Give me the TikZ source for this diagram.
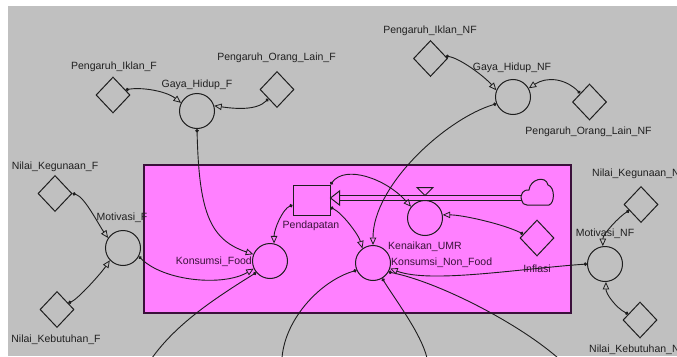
\documentclass[tikz,border=0pt]{standalone}
\usepackage{fontspec}
\setmainfont{Liberation Sans}
\usetikzlibrary{arrows.meta,shapes.geometric,calc}
\definecolor{bgc}{HTML}{C0C0C0}
\definecolor{magc}{HTML}{FF80FF}
\definecolor{boxline}{HTML}{3A103A}
\definecolor{linec}{HTML}{1E1E1E}
\definecolor{txtc}{HTML}{202020}
\definecolor{txtin}{HTML}{3A123A}
\tikzset{
  aux/.style={circle, draw=linec, line width=1pt, minimum size=35pt, inner sep=0pt},
  const/.style={diamond, draw=linec, line width=1pt, minimum width=34pt, minimum height=36pt, inner sep=0pt},
  levelbox/.style={rectangle, draw=linec, line width=1pt, minimum width=37pt, minimum height=30pt, inner sep=0pt},
  lbl/.style={font=\fontsize{10.5}{12}\selectfont, text=txtc, inner sep=0pt},
  lblin/.style={lbl, text=txtin},
  link/.style={draw=linec, line width=0.9pt, {Circle[length=3.4pt]}-{Triangle[open,length=7.5pt,width=6.5pt,line width=0.8pt]}},
  outlink/.style={draw=linec, line width=0.9pt, {Circle[length=3.4pt]}-},
  flowline/.style={draw=linec, line width=1pt},
}
\begin{document}
\begin{tikzpicture}[x=1pt,y=-1pt]
\useasboundingbox (0,0) rectangle (677,356);
\clip (0,0) rectangle (677,356);
\fill[white] (0,0) rectangle (677,356);
\fill[bgc] (8,6) rectangle (677,356);
\draw[fill=magc, draw=boxline, line width=1.2pt] (144,165) rectangle (571,313);

% auxiliaries
\node[aux] (gf) at (197,111) {};
\node[aux] (mf) at (123,248) {};
\node[aux] (kf) at (270,261) {};
\node[aux] (knf) at (373,263) {};
\node[aux] (kumr) at (425,218) {};
\node[aux] (mnf) at (605,264) {};
\node[aux] (ghnf) at (513,97) {};
% constants
\node[const] (pif) at (113,95) {};
\node[const] (polf) at (277,89.5) {};
\node[const] (nkf) at (55,193.5) {};
\node[const] (nbf) at (57,309.5) {};
\node[const] (pinf) at (430.5,58.5) {};
\node[const] (polnf) at (589.5,102) {};
\node[const] (infl) at (537,238) {};
\node[const] (nknf) at (641,204.5) {};
\node[const] (nbnf) at (640,320) {};
% level
\node[levelbox] (pend) at (311.5,200) {};

% labels
\node[lbl] (lpif) at (114,67) {Pengaruh\_Iklan\_F};
\node[lbl] (lgf) at (197,85) {Gaya\_Hidup\_F};
\node[lbl] (lpolf) at (276.5,58) {Pengaruh\_Orang\_Lain\_F};
\node[lbl] (lnkf) at (55,167) {Nilai\_Kegunaan\_F};
\node[lbl] (lmf) at (122,218) {Motivasi\_F};
\node[lbl] (lnbf) at (56,340) {Nilai\_Kebutuhan\_F};
\node[lblin, anchor=east] (lkf) at (252,262) {Konsumsi\_Food};
\node[lblin] (lpend) at (311,226) {Pendapatan};
\node[lblin, anchor=west] (lkumr) at (388,247) {Kenaikan\_UMR};
\node[lblin, anchor=west] (lknf) at (391,263) {Konsumsi\_Non\_Food};
\node[lblin] (linfl) at (537,269) {Inflasi};
\node[lbl] (lmnf) at (605,234) {Motivasi\_NF};
\node[lbl, anchor=west] (lnknf) at (592,174) {Nilai\_Kegunaan\_NF};
\node[lbl, anchor=west] (lnbnf) at (589,350) {Nilai\_Kebutuhan\_NF};
\node[lbl] (lpinf) at (430,31) {Pengaruh\_Iklan\_NF};
\node[lbl] (lghnf) at (512,68) {Gaya\_Hidup\_NF};
\node[lbl] (lpolnf) at (588.5,132) {Pengaruh\_Orang\_Lain\_NF};

% flow: cloud -> Pendapatan
\coordinate (cloud) at (522,198);
\draw[flowline, fill=magc] (522,201) .. controls (519,194) and (524,189) .. (529,190)
  .. controls (530,179) and (546,175) .. (548,185)
  .. controls (555,187) and (555,203) .. (549,205)
  -- (527,205) .. controls (524,205) and (522,203) .. (522,201) -- cycle;
\coordinate (tipP) at ($(pend.east)+(0,-2)$);
\draw[flowline] ($(cloud)+(0,-2.2)$) -- ($(tipP)+(9,-2.2)$);
\draw[flowline] ($(cloud)+(0,2.2)$) -- ($(tipP)+(9,2.2)$);
\draw[flowline] (tipP) -- ++(9,-7) -- ++(0,14) -- cycle;
\draw[flowline] ($(kumr.north)+(-8,-12.5)$) -- ++(16,0) -- ($(kumr.north)+(0,-4.5)$) -- cycle;

% information links
\draw[link] (pif.22) .. controls +(15,-3) and +(-15,-12) .. (gf.153);
\draw[link] (polf.227) .. controls +(-12,12) and +(20,3) .. (gf.17);
\draw[link] (gf.south) .. controls +(2,80) and +(-45,-15) .. (kf.158);
\draw[link] (nkf.east) .. controls +(12,3) and +(-10,-14) .. (mf.146);
\draw[link] (nbf.30) .. controls +(10,-4) and +(-8,12) .. (mf.223);
\draw[link] (mf.-28) .. controls +(25,25) and +(-30,18) .. (kf.205);
\draw[link] (pend.195) .. controls +(-10,4) and +(0,-14) .. (kf.77);
\draw[link] (pend.-21) .. controls +(12,6) and +(-4,-14) .. (knf.126);
\draw[link] (pend.north east) .. controls +(15,-20) and +(-25,-28) .. (kumr.141);
\draw[link] (ghnf.202) .. controls +(-50,15) and +(0,-60) .. (knf.north);
\draw[link] (infl.164) .. controls +(-20,-10) and +(20,0) .. (kumr.10);
\draw[link] (mnf.west) .. controls +(-70,5) and +(40,15) .. (knf.-18);
\draw[link] (nknf.207) .. controls +(-10,6) and +(0,-12) .. (mnf.97);
\draw[link] (nbnf.153) .. controls +(-12,-6) and +(0,12) .. (mnf.-87);
\draw[link] (pinf.9) .. controls +(14,2) and +(-12,-14) .. (ghnf.158);
\draw[link] (polnf.137) .. controls +(-15,-15) and +(18,-12) .. (ghnf.29);

% links leaving the view
\coordinate (o1) at (152,358);
\coordinate (o2) at (282,358);
\coordinate (o3) at (427,358);
\coordinate (o4) at (558,358);
\draw[outlink] (kf.220) .. controls +(-40,25) and +(25,-35) .. (o1);
\draw[outlink] (knf.204) .. controls +(-35,10) and +(3,-40) .. (o2);
\draw[outlink] (knf.-59) .. controls +(12,20) and +(-6,-25) .. (o3);
\draw[outlink] (knf.-30) .. controls +(50,10) and +(-40,-35) .. (o4);
\end{tikzpicture}
\end{document}
